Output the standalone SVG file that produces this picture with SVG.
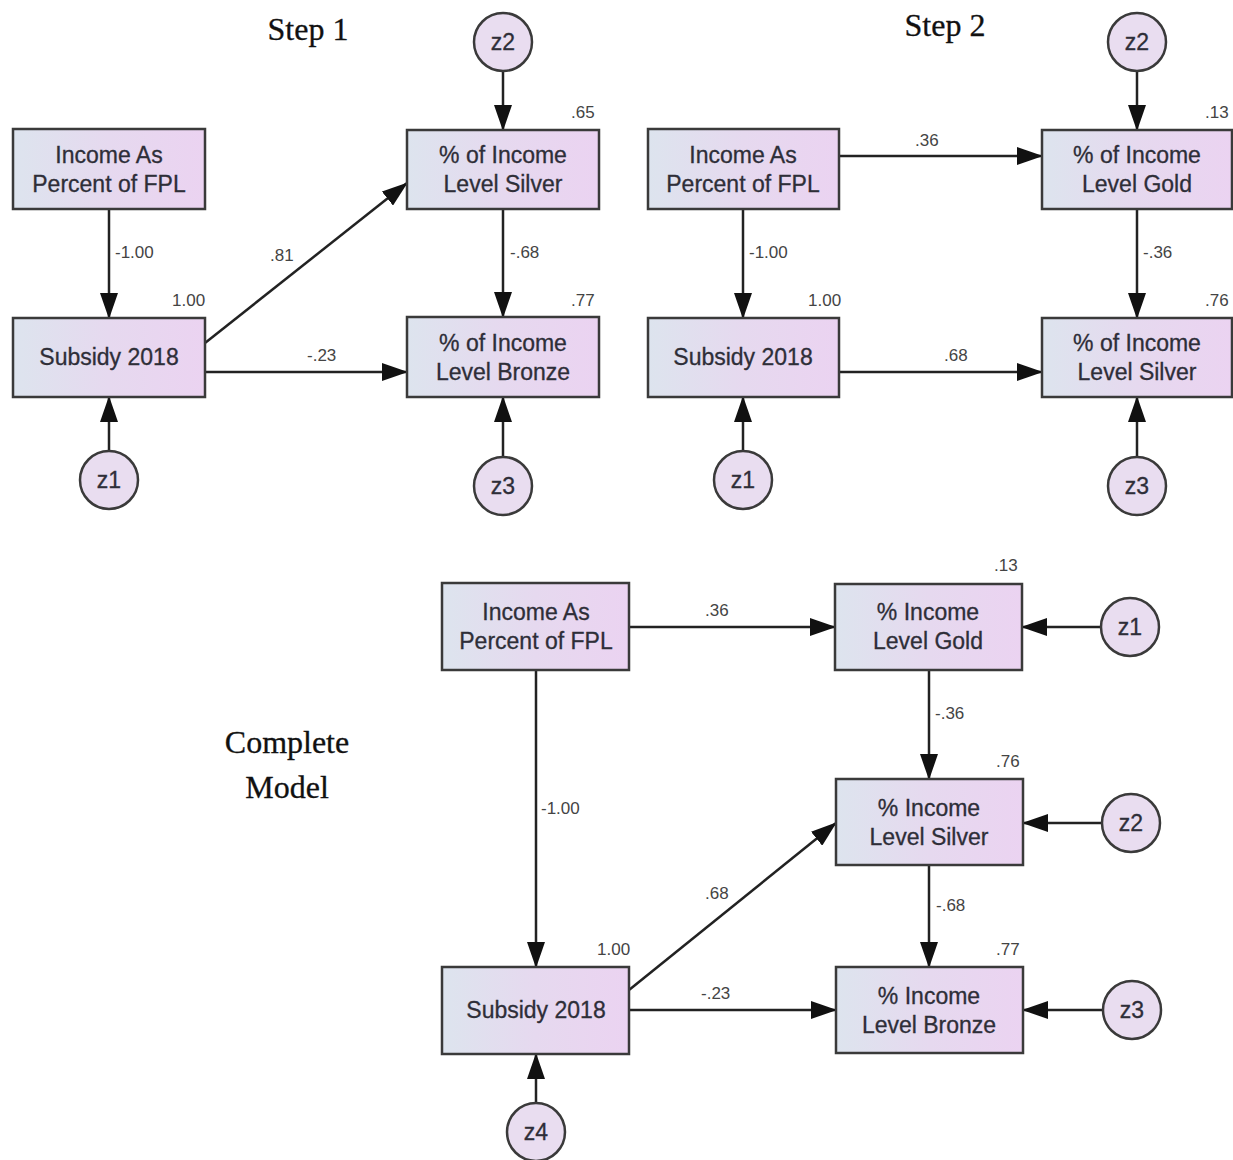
<svg xmlns="http://www.w3.org/2000/svg" width="1233" height="1160" viewBox="0 0 1233 1160">
<style>
.box{stroke:#3a3a3a;stroke-width:2.5;fill:url(#g)}
.cir{stroke:#3a3a3a;stroke-width:2.5;fill:#e9ddf0}
.t{font-family:"Liberation Sans",Arial,sans-serif;font-size:23px;fill:#2e2e38;text-anchor:middle;stroke:#2e2e38;stroke-width:0.3}
.n{font-family:"Liberation Sans",Arial,sans-serif;font-size:17px;fill:#444}
.h{font-family:"Liberation Serif","Times New Roman",serif;font-size:32px;fill:#111;text-anchor:middle;stroke:#111;stroke-width:0.3}
.e{stroke:#222;stroke-width:2.5;fill:none;marker-end:url(#a)}
</style>
<defs>
<linearGradient id="g" x1="0" y1="0" x2="1" y2="0">
<stop offset="0" stop-color="#dde4ee"/>
<stop offset="0.5" stop-color="#e6d9ef"/>
<stop offset="1" stop-color="#ebd3f1"/>
</linearGradient>
<marker id="a" markerUnits="userSpaceOnUse" markerWidth="26" markerHeight="18" refX="25" refY="9" orient="auto">
<path d="M0,0 L26,9 L0,18 Z" fill="#111"/>
</marker>
</defs>
<rect width="1233" height="1160" fill="#fff"/>

<text class="h" x="308" y="40">Step 1</text>
<text class="h" x="945" y="36">Step 2</text>
<text class="h" x="287" y="753">Complete</text>
<text class="h" x="287" y="798">Model</text>

<g id="connectors">
<line class="e" x1="109" y1="209" x2="109" y2="318"/>
<line class="e" x1="503" y1="71" x2="503" y2="130"/>
<line class="e" x1="503" y1="209" x2="503" y2="317"/>
<line class="e" x1="205" y1="343" x2="407" y2="183"/>
<line class="e" x1="205" y1="372" x2="407" y2="372"/>
<line class="e" x1="109" y1="451" x2="109" y2="397"/>
<line class="e" x1="503" y1="457" x2="503" y2="397"/>
<line class="e" x1="743" y1="209" x2="743" y2="318"/>
<line class="e" x1="1137" y1="71" x2="1137" y2="130"/>
<line class="e" x1="1137" y1="209" x2="1137" y2="318"/>
<line class="e" x1="839" y1="156" x2="1042" y2="156"/>
<line class="e" x1="839" y1="372" x2="1042" y2="372"/>
<line class="e" x1="743" y1="451" x2="743" y2="397"/>
<line class="e" x1="1137" y1="457" x2="1137" y2="397"/>
<line class="e" x1="629" y1="627" x2="835" y2="627"/>
<line class="e" x1="536" y1="670" x2="536" y2="967"/>
<line class="e" x1="629" y1="990" x2="836" y2="823"/>
<line class="e" x1="629" y1="1010" x2="836" y2="1010"/>
<line class="e" x1="929" y1="670" x2="929" y2="779"/>
<line class="e" x1="929" y1="865" x2="929" y2="967"/>
<line class="e" x1="1101" y1="627" x2="1022" y2="627"/>
<line class="e" x1="1102" y1="823" x2="1023" y2="823"/>
<line class="e" x1="1103" y1="1010" x2="1023" y2="1010"/>
<line class="e" x1="536" y1="1103" x2="536" y2="1054"/>
</g>

<g id="labels">
<text class="n" x="115" y="258">-1.00</text>
<text class="n" x="172" y="306">1.00</text>
<text class="n" x="270" y="261">.81</text>
<text class="n" x="307" y="361">-.23</text>
<text class="n" x="510" y="258">-.68</text>
<text class="n" x="571" y="118">.65</text>
<text class="n" x="571" y="306">.77</text>
<text class="n" x="749" y="258">-1.00</text>
<text class="n" x="808" y="306">1.00</text>
<text class="n" x="915" y="146">.36</text>
<text class="n" x="944" y="361">.68</text>
<text class="n" x="1143" y="258">-.36</text>
<text class="n" x="1205" y="118">.13</text>
<text class="n" x="1205" y="306">.76</text>
<text class="n" x="705" y="616">.36</text>
<text class="n" x="541" y="814">-1.00</text>
<text class="n" x="597" y="955">1.00</text>
<text class="n" x="705" y="899">.68</text>
<text class="n" x="701" y="999">-.23</text>
<text class="n" x="935" y="719">-.36</text>
<text class="n" x="936" y="911">-.68</text>
<text class="n" x="994" y="571">.13</text>
<text class="n" x="996" y="767">.76</text>
<text class="n" x="996" y="955">.77</text>
</g>

<g id="s1_income"><rect class="box" x="13" y="129" width="192" height="80"/><text class="t" x="109" y="163">Income As</text><text class="t" x="109" y="192">Percent of FPL</text></g>
<g id="s1_subsidy"><rect class="box" x="13" y="318" width="192" height="79"/><text class="t" x="109" y="365">Subsidy 2018</text></g>
<g id="s1_silver"><rect class="box" x="407" y="130" width="192" height="79"/><text class="t" x="503" y="163">% of Income</text><text class="t" x="503" y="192">Level Silver</text></g>
<g id="s1_bronze"><rect class="box" x="407" y="317" width="192" height="80"/><text class="t" x="503" y="351">% of Income</text><text class="t" x="503" y="380">Level Bronze</text></g>
<g id="s1_z2"><circle class="cir" cx="503" cy="42" r="29"/><text class="t" x="503" y="50">z2</text></g>
<g id="s1_z1"><circle class="cir" cx="109" cy="480" r="29"/><text class="t" x="109" y="488">z1</text></g>
<g id="s1_z3"><circle class="cir" cx="503" cy="486" r="29"/><text class="t" x="503" y="494">z3</text></g>

<g id="s2_income"><rect class="box" x="648" y="129" width="191" height="80"/><text class="t" x="743" y="163">Income As</text><text class="t" x="743" y="192">Percent of FPL</text></g>
<g id="s2_subsidy"><rect class="box" x="648" y="318" width="191" height="79"/><text class="t" x="743" y="365">Subsidy 2018</text></g>
<g id="s2_gold"><rect class="box" x="1042" y="130" width="190" height="79"/><text class="t" x="1137" y="163">% of Income</text><text class="t" x="1137" y="192">Level Gold</text></g>
<g id="s2_silver"><rect class="box" x="1042" y="318" width="190" height="79"/><text class="t" x="1137" y="351">% of Income</text><text class="t" x="1137" y="380">Level Silver</text></g>
<g id="s2_z2"><circle class="cir" cx="1137" cy="42" r="29"/><text class="t" x="1137" y="50">z2</text></g>
<g id="s2_z1"><circle class="cir" cx="743" cy="480" r="29"/><text class="t" x="743" y="488">z1</text></g>
<g id="s2_z3"><circle class="cir" cx="1137" cy="486" r="29"/><text class="t" x="1137" y="494">z3</text></g>

<g id="c_income"><rect class="box" x="442" y="583" width="187" height="87"/><text class="t" x="536" y="620">Income As</text><text class="t" x="536" y="649">Percent of FPL</text></g>
<g id="c_subsidy"><rect class="box" x="442" y="967" width="187" height="87"/><text class="t" x="536" y="1018">Subsidy 2018</text></g>
<g id="c_gold"><rect class="box" x="835" y="584" width="187" height="86"/><text class="t" x="928" y="620">% Income</text><text class="t" x="928" y="649">Level Gold</text></g>
<g id="c_silver"><rect class="box" x="836" y="779" width="187" height="86"/><text class="t" x="929" y="816">% Income</text><text class="t" x="929" y="845">Level Silver</text></g>
<g id="c_bronze"><rect class="box" x="836" y="967" width="187" height="86"/><text class="t" x="929" y="1004">% Income</text><text class="t" x="929" y="1033">Level Bronze</text></g>
<g id="c_z1"><circle class="cir" cx="1130" cy="627" r="29"/><text class="t" x="1130" y="635">z1</text></g>
<g id="c_z2"><circle class="cir" cx="1131" cy="823" r="29"/><text class="t" x="1131" y="831">z2</text></g>
<g id="c_z3"><circle class="cir" cx="1132" cy="1010" r="29"/><text class="t" x="1132" y="1018">z3</text></g>
<g id="c_z4"><circle class="cir" cx="536" cy="1132" r="29"/><text class="t" x="536" y="1140">z4</text></g>
</svg>
